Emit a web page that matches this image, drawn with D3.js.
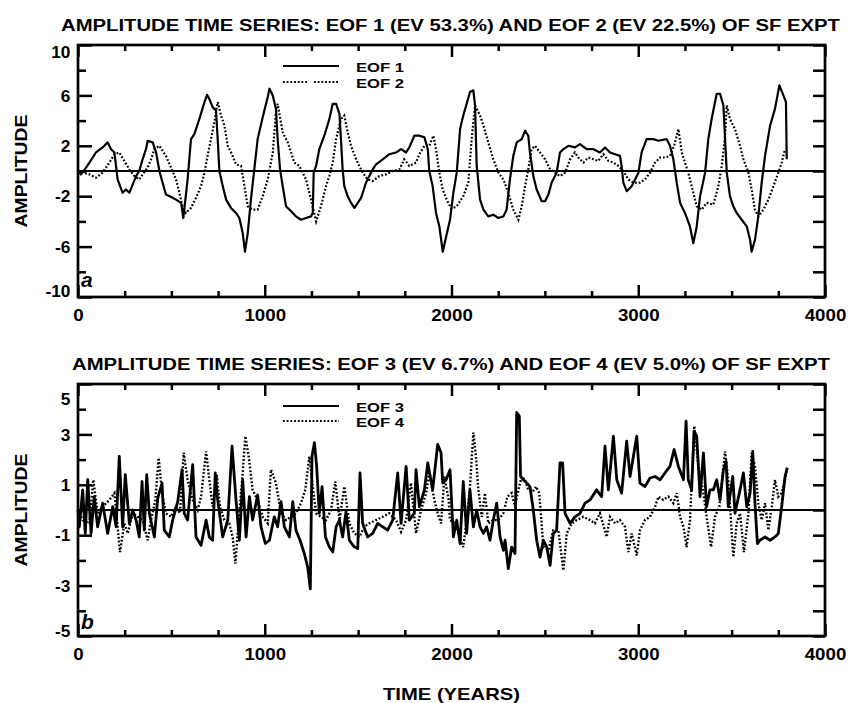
<!DOCTYPE html>
<html>
<head>
<meta charset="utf-8">
<title>EOF amplitude time series</title>
<style>
  body { margin: 0; background: #fff; }
  svg text { font-family: "Liberation Sans", Arial, Helvetica, sans-serif; font-weight: bold; fill: #000; }
  .tick line { stroke: #000; stroke-width: 2.5; }
  .domain { display: none; }
</style>
</head>
<body>
<script src="https://cdnjs.cloudflare.com/ajax/libs/d3/7.8.5/d3.min.js"></script>
<script>
// ---- data (years, amplitude) ----
var eof1Years = [0,16,43,61,96,132,159,177,195,212,239,257,275,311,328,346,364,373,400,418,436,453,471,507,525,552,564,587,605,623,650,677,691,703,721,739,748,757,775,793,819,846,864,882,894,909,926,944,962,989,1016,1025,1043,1060,1069,1082,1096,1114,1141,1167,1194,1221,1248,1257,1262,1275,1292,1319,1346,1364,1382,1400,1408,1417,1426,1444,1462,1480,1498,1516,1542,1560,1578,1596,1632,1667,1703,1730,1757,1774,1801,1828,1855,1873,1881,1899,1917,1935,1953,
  1992,2010,2028,2046,2063,2081,2099,2117,2126,2135,2153,2171,2197,2224,2251,2278,2295,2313,2331,2349,2376,2394,2411,2420,2438,2456,2483,2501,2519,2536,2563,2581,2599,2626,2661,2688,2724,2760,2795,2822,2849,2876,2902,2911,2920,2938,2965,2983,3001,3018,3045,3081,3108,3152,3170,3188,3206,3224,3250,3277,3295,3313,3331,3358,3375,3393,3420,3438,3456,3465,3474,3491,3509,3527,3554,3581,3599,3607,3625,3643,3661,3679,3706,3732,3756,3777,3791,3795];
var eof1 = [0,-0.27,0.27,0.67,1.47,1.87,2.27,1.73,1.47,-0.67,-1.73,-1.47,-1.73,-0.4,0,0.93,1.73,2.4,2.27,1.47,0,-0.93,-1.87,-2.13,-2.27,-2.53,-3.73,-0.67,2.53,2.93,4.13,5.47,6.05,5.73,5.07,4.8,2.53,0,-1.2,-2.27,-2.93,-3.33,-3.73,-4.93,-6.4,-4.93,-2.27,0.13,2.53,4.27,5.87,6.53,6.0,4.93,2.53,0.13,-1.2,-2.8,-3.2,-3.6,-3.87,-3.73,-3.6,-3.33,-0.13,0.4,1.73,2.8,4.13,5.33,5.33,4.53,2.53,0.13,-1.2,-2.0,-2.53,-2.93,-2.53,-2.13,-0.93,-0.4,0.13,0.53,0.93,1.33,1.47,1.73,1.47,1.87,2.8,2.8,2.67,1.73,0,-1.2,-3.33,-4.4,-6.4,
  -3.87,-1.73,-0.13,3.33,4.4,5.33,6.27,6.4,5.2,0.4,-2.27,-3.07,-3.6,-3.47,-3.73,-3.6,-3.07,-0.67,1.2,2.27,2.53,3.2,2.8,1.47,-0.4,-1.47,-2.4,-2.4,-1.87,-0.93,-0.13,1.47,1.73,2.0,1.87,2.13,1.73,1.73,1.47,1.87,1.47,1.33,1.2,0.4,-0.93,-1.6,-1.2,-0.67,-0.13,1.47,2.53,2.53,2.4,2.53,2.0,0.93,-0.93,-2.53,-3.33,-4.4,-5.73,-4.4,-2.0,-0.13,2.53,4.13,6.13,6.13,5.2,2.53,-0.13,-2.0,-2.8,-3.33,-3.87,-4.4,-5.47,-6.4,-5.47,-3.6,-0.93,1.2,3.6,4.93,6.8,6.0,5.47,0.93];

var eof2Years = [0,61,96,132,168,195,221,248,275,302,328,346,373,391,409,436,471,498,525,543,560,578,605,632,659,677,694,712,730,748,766,784,802,828,846,873,891,909,935,962,989,1016,1043,1060,1069,1096,1123,1141,1158,1185,1221,1248,1275,1301,1328,1346,1364,1382,1408,1426,1444,1462,1489,1524,1551,1578,1614,1649,1685,1721,1747,1774,1810,1828,1855,1881,1903,1917,1935,1953,1975,
  2000,2028,2063,2090,2108,2126,2153,2171,2197,2224,2251,2278,2304,2331,2358,2376,2394,2411,2429,2447,2474,2501,2528,2554,2581,2608,2635,2661,2679,2706,2733,2760,2786,2813,2840,2867,2893,2920,2947,2974,3009,3036,3063,3090,3117,3143,3170,3192,3215,3233,3250,3268,3286,3313,3340,3366,3402,3429,3447,3465,3474,3491,3518,3545,3563,3590,3607,3625,3643,3670,3697,3724,3750,3768,3786];
var eof2 = [0,-0.27,-0.53,-0.13,0.67,1.33,1.47,0.8,0.13,-0.4,-0.67,-0.27,0.27,0.93,1.73,2.0,1.2,0.27,-0.67,-1.73,-2.8,-3.33,-2.93,-2.13,-1.2,-0.13,1.2,2.53,3.87,5.47,4.4,3.6,2.0,1.2,0.53,0.4,-1.2,-2.8,-3.07,-3.07,-2.0,-0.67,1.47,4.67,5.33,3.07,2.27,1.47,0.67,0.4,-0.67,-2.27,-4.0,-2.8,-1.2,-0.4,0.67,2.53,4.13,4.4,3.07,2.0,0.93,-0.13,-0.67,-0.8,-0.4,-0.27,0,0.13,0.93,0.4,0.67,1.33,2.0,2.0,2.8,1.73,-0.13,-1.47,-2.3,
  -3.0,-2.8,-2.0,-0.93,2.53,5.2,4.4,3.6,2.27,0.93,-0.13,-0.67,-1.73,-3.07,-3.87,-2.8,-1.2,0.13,1.73,2.0,1.47,0.93,0.13,-0.13,-0.4,-0.13,0.93,1.47,1.07,0.67,1.07,0.93,0.8,1.33,0.8,0.67,0.4,0,-0.67,-0.93,-0.93,-0.67,-0.13,0.67,1.07,1.07,1.2,2.0,3.33,1.47,0.67,-0.13,-1.2,-2.8,-3.07,-2.53,-2.67,-1.2,0.4,2.8,5.2,4.13,3.33,2.0,0.93,-0.13,-1.47,-3.07,-3.6,-3.07,-2.27,-1.2,-0.13,0.67,1.73];

var eof3Years = [0,7,25,39,52,70,87,105,132,159,186,204,221,239,253,275,293,311,328,343,355,368,382,409,427,450,462,489,507,534,557,569,587,614,632,659,686,703,721,735,748,775,802,825,846,864,882,900,918,935,962,980,1003,1025,1051,1069,1087,1105,1132,1150,1167,1189,1212,1230,1244,1253,1266,1278,1292,1307,1325,1346,1364,1382,1400,1417,1435,1453,1480,1498,1510,1524,1551,1578,1605,1632,1658,1685,1712,1730,1757,1774,1801,1810,1828,1855,1873,1899,1926,1944,1953,1971,
  1992,2010,2028,2046,2063,2081,2099,2117,2135,2153,2171,2188,2206,2224,2242,2260,2278,2287,2304,2322,2340,2349,2363,2370,2385,2403,2420,2438,2456,2474,2492,2510,2528,2545,2563,2581,2595,2608,2635,2661,2688,2715,2742,2777,2804,2822,2840,2867,2885,2911,2938,2956,2992,3009,3036,3063,3090,3117,3143,3170,3192,3215,3242,3256,3268,3286,3299,3313,3331,3349,3366,3384,3402,3420,3438,3456,3470,3482,3506,3518,3545,3563,3581,3599,3613,3625,3638,3652,3679,3706,3732,3750,3768,3786,3798];
var eof3 = [0,-0.67,0.8,-0.93,1.2,-0.93,0.53,-0.67,0.27,-0.93,0.13,-0.67,2.13,-0.67,1.4,-0.53,0,-0.4,-1.07,1.13,-0.8,1.4,-0.13,-1.07,0.47,1.07,-0.8,-1.07,-0.4,0.33,1.6,-0.13,-0.4,1.8,-1.07,-1.4,-0.4,-1.07,-1.2,1.47,0.4,-1.07,-0.4,2.53,0.4,-1.2,1.2,-1.07,0.53,-0.4,0.6,-0.67,-1.33,-1.2,-0.27,-0.67,0.33,-0.67,-1.07,0.33,-0.8,-1.2,-1.73,-2.27,-3.13,2.13,2.67,1.73,-0.13,0.93,-1.07,-1.47,-1.67,-0.67,-0.4,-1.07,-0.07,-1.2,-1.47,-1.53,1.47,-0.53,-1.07,-0.93,-0.53,-0.67,-0.8,-0.4,1.47,-0.53,1.73,-0.4,-0.13,1.6,0.13,0.8,1.87,0.8,2.6,2.27,1.07,1.2,
  1.6,-1.07,-0.4,-1.33,1.13,-0.93,0.8,-0.67,0,-0.67,-0.93,-0.67,-1.2,-0.4,0.27,-1.07,-1.6,-1.2,-2.33,-1.47,-1.73,3.87,3.73,1.33,1.2,1.07,0.93,0,-1.2,-1.87,-1.2,-1.47,-2.2,-0.93,-0.8,1.87,1.87,-0.13,-0.53,-0.27,-0.13,0.27,0.4,0.8,0.53,2.53,0.8,2.93,1.2,0.67,2.73,1.33,2.93,1.07,0.93,1.27,1.33,1.2,1.47,1.73,2.4,1.73,1.2,3.53,1.2,0.8,3.13,2.93,0.53,2.27,0.13,0.8,0.8,1.2,0.4,1.6,1.93,0.13,1.33,-0.13,0.8,1.47,0.13,0.67,2.33,0.27,-1.33,-1.2,-1.07,-1.2,-1.07,-0.93,0.13,1.33,1.67];

var eof4Years = [0,25,61,82,105,132,168,195,225,248,266,293,320,346,373,391,414,432,450,471,498,525,546,566,587,614,641,659,686,703,721,743,760,784,810,828,843,860,882,896,914,935,962,989,1016,1033,1060,1087,1114,1141,1167,1194,1217,1239,1257,1275,1301,1328,1355,1378,1400,1426,1453,1480,1507,1533,1560,1596,1632,1667,1703,1730,1757,1783,1810,1837,1864,1881,1908,1926,1944,1962,1985,
  1992,2019,2037,2063,2081,2099,2117,2131,2144,2162,2179,2197,2224,2251,2278,2299,2322,2340,2358,2376,2394,2411,2435,2453,2470,2492,2519,2545,2572,2599,2617,2644,2670,2706,2742,2768,2795,2831,2849,2876,2902,2929,2947,2965,2992,3009,3036,3063,3090,3108,3134,3161,3188,3206,3224,3242,3259,3277,3300,3322,3349,3366,3390,3411,3434,3465,3482,3509,3527,3545,3566,3590,3607,3625,3643,3661,3679,3697,3715,3732,3750,3768,3786,3798];
var eof4 = [0,-0.4,-0.53,1.2,-0.13,0.13,0.4,0.67,-1.67,-0.53,-0.93,-0.13,-0.27,-0.4,-1.2,-0.4,0.4,2.07,0.67,-0.13,-0.27,0.13,-0.13,2.27,1.2,0.4,0,0.53,2.33,1.2,0.13,1.4,0.13,-0.4,-0.53,-1.07,-2.13,-0.4,1.47,2.93,2.13,0.8,0.4,-0.27,-0.53,1.6,1.07,-0.13,-0.4,-0.27,-0.13,0.27,0.8,2.13,0.93,-0.13,-0.27,-0.4,0,1.13,-0.4,0.93,-0.53,-0.93,-1.07,-0.67,-0.53,-0.4,-0.27,-0.13,-0.4,-0.87,-0.4,1.07,-0.93,0,0.67,1.47,0.4,-0.13,-0.53,1.33,0.4,
  -0.4,-0.53,-0.93,-1.47,-0.4,0.93,3.07,2.13,0.8,-0.27,0.67,-0.53,-0.4,-0.4,-0.13,0.53,0.67,0.13,0.8,1.33,1.2,0.8,0.73,0.93,0.67,-1.47,-1.6,-0.8,-0.8,-2.4,-0.93,-0.53,-0.4,-0.27,-0.4,-0.53,-0.13,-1.07,-0.27,-0.53,-0.4,-0.67,-1.67,-0.93,-1.8,-0.8,-0.4,-0.27,0.13,0.53,0.4,0.53,0.27,0.67,-0.27,-0.67,-1.47,-0.4,3.33,1.73,0.67,-0.27,-1.47,-0.27,0.13,2.33,1.2,-1.87,-0.53,-0.13,-1.67,-0.13,2.27,1.73,0.27,-0.4,0.27,-0.8,0.13,1.2,0.53,0.67,1.2,1.73];

var xMajor = [0, 1000, 2000, 3000, 4000];
var xMinor = [250, 500, 750, 1250, 1500, 1750, 2250, 2500, 2750, 3250, 3500, 3750];
var yMajorA = [-10, -6, -2, 2, 6, 10], yMinorA = [-8, -4, 0, 4, 8];
var yMajorB = [-5, -3, -1, 1, 3, 5], yMinorB = [-4, -2, 0, 2, 4];

// ---- layout ----
var W = 850, H = 703;
var left = 78, plotW = 747, plotH = 252;

var svg = d3.select("body").append("svg")
    .attr("width", W)
    .attr("height", H);

function drawPanel(opt) {
  var g = svg.append("g").attr("transform", "translate(" + left + "," + opt.top + ")");

  var x = d3.scaleLinear().domain([0, 4000]).range([0, plotW]);
  var y = d3.scaleLinear().domain(opt.yDomain).range([plotH, 0]);

  // axes, ticks pointing inward
  var bx = g.append("g").attr("transform", "translate(0," + plotH + ")")
      .call(d3.axisBottom(x).tickValues(xMajor).tickSize(-12).tickFormat(String));
  bx.selectAll("text")
      .attr("y", 24).attr("dy", null)
      .style("font-size", "17px")
      .attr("transform", "scale(1.1,1)");
  g.append("g").attr("transform", "translate(0," + plotH + ")")
      .call(d3.axisBottom(x).tickValues(xMinor).tickSize(-6).tickFormat(""));
  g.append("g").call(d3.axisTop(x).tickValues(xMajor).tickSize(-12).tickFormat(""));
  g.append("g").call(d3.axisTop(x).tickValues(xMinor).tickSize(-6).tickFormat(""));

  var ly = g.append("g")
      .call(d3.axisLeft(y).tickValues(opt.yMajor).tickSize(-14).tickPadding(7).tickFormat(String));
  ly.selectAll("text")
      .style("font-size", "16px")
      .attr("transform", "scale(1.08,1)")
      .attr("dy", function(d) {
        if (d === opt.yDomain[1]) return opt.topShift;
        if (d === opt.yDomain[0]) return opt.botShift;
        return "0.35em";
      });
  g.append("g").call(d3.axisLeft(y).tickValues(opt.yMinor).tickSize(-8).tickFormat(""));
  g.append("g").attr("transform", "translate(" + plotW + ",0)")
      .call(d3.axisRight(y).tickValues(opt.yMajor.concat(opt.yMinor)).tickSize(-12).tickFormat(""));

  // frame
  g.append("rect")
      .attr("width", plotW).attr("height", plotH)
      .attr("fill", "none").attr("stroke", "#000").attr("stroke-width", 2.7);

  // zero line
  g.append("line")
      .attr("x1", 0).attr("x2", plotW)
      .attr("y1", y(0)).attr("y2", y(0))
      .attr("stroke", "#000").attr("stroke-width", 2);

  var line = d3.line()
      .x(function(d) { return x(d[0]); })
      .y(function(d) { return y(d[1]); });

  g.append("path")
      .datum(d3.zip(opt.dotYears, opt.dotVals))
      .attr("d", line)
      .attr("fill", "none").attr("stroke", "#000")
      .attr("stroke-width", opt.dotWidth).attr("stroke-dasharray", "1.8,1.9");

  g.append("path")
      .datum(d3.zip(opt.solidYears, opt.solidVals))
      .attr("d", line)
      .attr("fill", "none").attr("stroke", "#000")
      .attr("stroke-width", opt.solidWidth).attr("stroke-linejoin", "round");

  // legend
  var lg = g.append("g").attr("transform", "translate(" + (283 - left) + ",0)");
  lg.append("line").attr("x1", 0).attr("x2", 56)
      .attr("y1", opt.legY[0]).attr("y2", opt.legY[0])
      .attr("stroke", "#000").attr("stroke-width", 2);
  lg.append("line").attr("x1", 0).attr("x2", 56)
      .attr("y1", opt.legY[1]).attr("y2", opt.legY[1])
      .attr("stroke", "#000").attr("stroke-width", 2).attr("stroke-dasharray", opt.legDash);
  lg.selectAll("text.leg")
      .data(opt.legNames)
      .enter().append("text")
      .attr("class", "leg")
      .attr("x", 73)
      .attr("y", function(d, i) { return opt.legY[i] + 6; })
      .attr("textLength", 48).attr("lengthAdjust", "spacingAndGlyphs")
      .style("font-size", "13.5px")
      .text(function(d) { return d; });

  // panel letter
  g.append("text")
      .attr("x", 3).attr("y", plotH - opt.letterOff)
      .style("font-size", "21px").style("font-style", "italic")
      .text(opt.letter);

  // title
  svg.append("text")
      .attr("x", opt.titleX).attr("y", opt.titleY)
      .attr("textLength", opt.titleLen).attr("lengthAdjust", "spacingAndGlyphs")
      .style("font-size", "16px")
      .text(opt.title);

  // y label
  svg.append("text")
      .attr("transform", "translate(27," + (opt.top + plotH / 2) + ") rotate(-90)")
      .attr("text-anchor", "middle")
      .attr("textLength", 113).attr("lengthAdjust", "spacingAndGlyphs")
      .style("font-size", "16.5px")
      .text("AMPLITUDE");
}

drawPanel({
  top: 45, yDomain: [-10, 10], yMajor: yMajorA, yMinor: yMinorA,
  topShift: "0.8em", botShift: "-0.05em",
  solidYears: eof1Years, solidVals: eof1, dotYears: eof2Years, dotVals: eof2,
  solidWidth: 2.2, dotWidth: 2.2,
  legY: [21, 37], legNames: ["EOF 1", "EOF 2"], legDash: "1.8,1.9,1.8,1.9,1.8,1.9,1.8,1.9,1.8,1.9,1.8,1.9,1.8,7,1.8,1.9,1.8,1.9",
  letter: "a", letterOff: 10,
  title: "AMPLITUDE TIME SERIES: EOF 1 (EV 53.3%) AND EOF 2 (EV 22.5%) OF SF EXPT",
  titleX: 61, titleY: 31, titleLen: 779
});

drawPanel({
  top: 384, yDomain: [-5, 5], yMajor: yMajorB, yMinor: yMinorB,
  topShift: "1.3em", botShift: "0em",
  solidYears: eof3Years, solidVals: eof3, dotYears: eof4Years, dotVals: eof4,
  solidWidth: 2.8, dotWidth: 2.4,
  legY: [22, 37], legNames: ["EOF 3", "EOF 4"], legDash: "1.8,1.9",
  letter: "b", letterOff: 7,
  title: "AMPLITUDE TIME SERIES: EOF 3 (EV 6.7%) AND EOF 4 (EV 5.0%) OF SF EXPT",
  titleX: 72, titleY: 370, titleLen: 758
});

svg.append("text")
    .attr("x", left + plotW / 2).attr("y", 700)
    .attr("text-anchor", "middle")
    .attr("textLength", 137).attr("lengthAdjust", "spacingAndGlyphs")
    .style("font-size", "17px")
    .text("TIME (YEARS)");
</script>
</body>
</html>
